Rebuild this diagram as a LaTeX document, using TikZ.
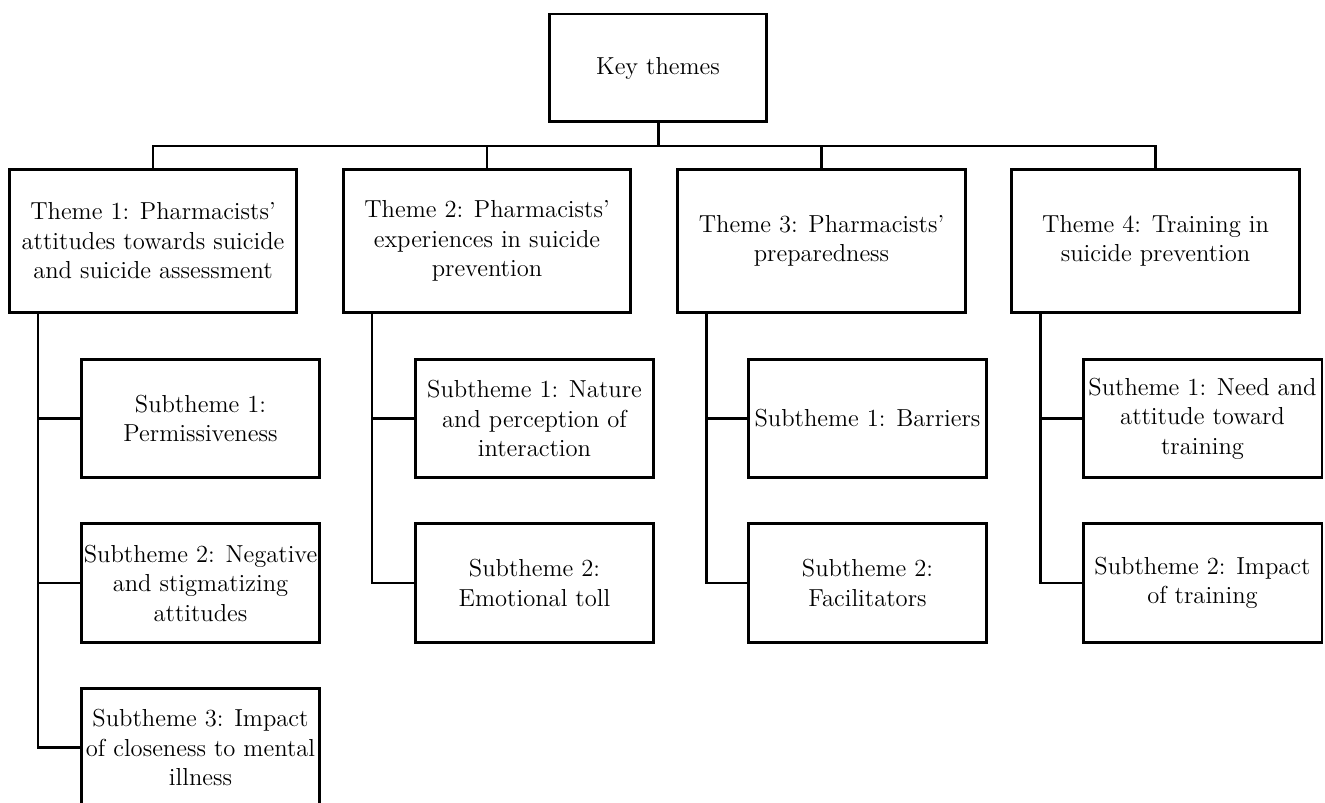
\documentclass[tikz,border=0pt]{standalone}
\usepackage{tikz}

\begin{document}
\begin{tikzpicture}[x=0.02cm,y=-0.02cm, line width=1.7pt,
  every node/.style={font=\fontsize{14}{16.8}\selectfont, align=center},
  keybox/.style={fill=white,draw,minimum width=4.36cm,minimum height=2.16cm},
  themebox/.style={fill=white,draw,minimum width=5.76cm,minimum height=2.88cm},
  subbox/.style={fill=white,draw,inner xsep=0.5pt,minimum width=4.78cm,minimum height=2.38cm}]
\useasboundingbox (0,0) rectangle (1325,803);
\clip (0,0) rectangle (1325,803);

\coordinate (k) at (658,68);
\coordinate (b0) at (658,146);
\coordinate (o1) at (153,241);
\coordinate (o2) at (487,241);
\coordinate (o3) at (821.5,241);
\coordinate (o4) at (1155.5,241);
\coordinate (n11) at (200.5,418.5);
\coordinate (n12) at (200.5,583);
\coordinate (n13) at (200.5,747.5);
\coordinate (n21) at (534.5,418.5);
\coordinate (n22) at (534.5,583);
\coordinate (n31) at (867.5,418.5);
\coordinate (n32) at (867.5,583);
\coordinate (n41) at (1202.5,418.5);
\coordinate (n42) at (1202.5,583);
\coordinate (tr1) at (38,0);
\coordinate (tr2) at (372,0);
\coordinate (tr3) at (706,0);
\coordinate (tr4) at (1040,0);

  \node (key) at (k) [keybox] {Key themes};

  \node (t1) at (o1) [themebox] {Theme 1: Pharmacists'\\attitudes towards suicide\\and suicide assessment};
  \node (t2) at (o2) [themebox] {Theme 2: Pharmacists'\\experiences in suicide\\prevention};
  \node (t3) at (o3) [themebox] {Theme 3: Pharmacists'\\preparedness};
  \node (t4) at (o4) [themebox] {Theme 4: Training in\\suicide prevention};

  \node (s11) at (n11) [subbox] {Subtheme 1:\\Permissiveness};
  \node (s12) at (n12) [subbox] {Subtheme 2: Negative\\and stigmatizing\\attitudes};
  \node (s13) at (n13) [subbox] {Subtheme 3: Impact\\of closeness to mental\\illness};
  \node (s21) at (n21) [subbox] {Subtheme 1: Nature\\and perception of\\interaction};
  \node (s22) at (n22) [subbox] {Subtheme 2:\\Emotional toll};
  \node (s31) at (n31) [subbox] {Subtheme 1: Barriers};
  \node (s32) at (n32) [subbox] {Subtheme 2:\\Facilitators};
  \node (s41) at (n41) [subbox] {Sutheme 1: Need and\\attitude toward\\training};
  \node (s42) at (n42) [subbox] {Subtheme 2: Impact\\of training};

  % key themes to the four themes
  \draw (key.south) to (b0);
  \draw (t1.north) to (t1.north |- b0) to (t4.north |- b0) to (t4.north);
  \draw (t2.north) to (t2.north |- b0);
  \draw (t3.north) to (t3.north |- b0);

  % themes to subthemes
  \draw (t1.south -| tr1) |- (s13.west);
  \draw (tr1 |- s11.west) to (s11.west);
  \draw (tr1 |- s12.west) to (s12.west);
  \draw (t2.south -| tr2) |- (s22.west);
  \draw (tr2 |- s21.west) to (s21.west);
  \draw (t3.south -| tr3) |- (s32.west);
  \draw (tr3 |- s31.west) to (s31.west);
  \draw (t4.south -| tr4) |- (s42.west);
  \draw (tr4 |- s41.west) to (s41.west);
\end{tikzpicture}
\end{document}
